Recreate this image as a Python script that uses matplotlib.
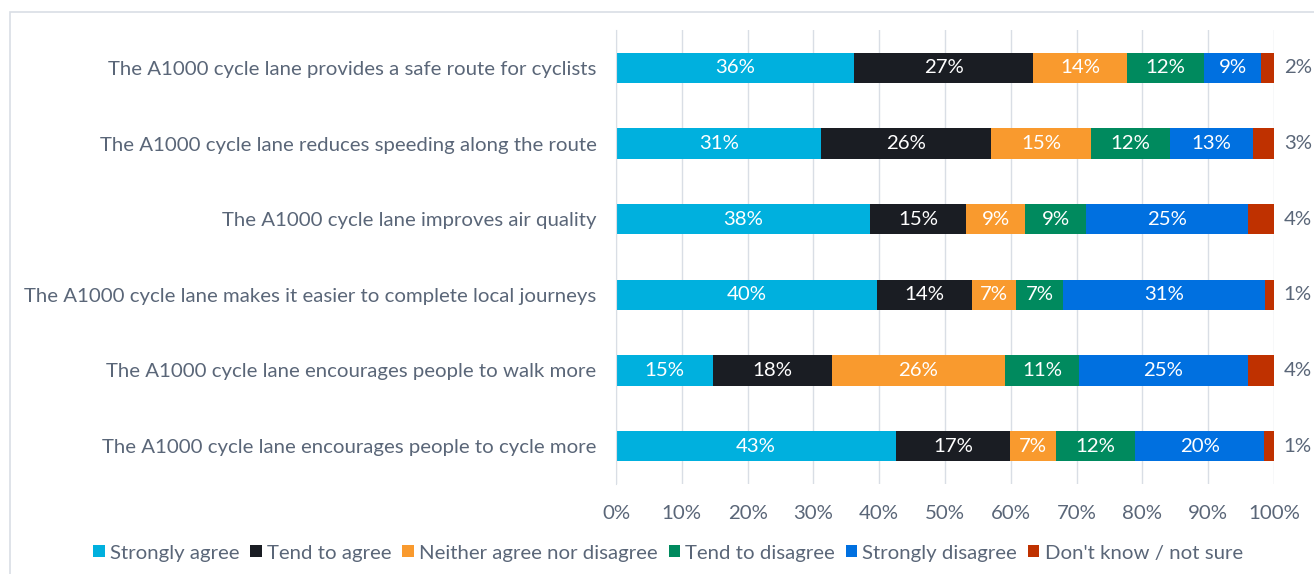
import matplotlib
matplotlib.use("Agg")
import matplotlib.pyplot as plt
from matplotlib.patches import Rectangle
from matplotlib.ticker import PercentFormatter

plt.rcParams['font.family'] = ['Lato', 'DejaVu Sans']

categories = [
    "The A1000 cycle lane provides a safe route for cyclists",
    "The A1000 cycle lane reduces speeding along the route",
    "The A1000 cycle lane improves air quality",
    "The A1000 cycle lane makes it easier to complete local journeys",
    "The A1000 cycle lane encourages people to walk more",
    "The A1000 cycle lane encourages people to cycle more",
]
series_names = ["Strongly agree", "Tend to agree", "Neither agree nor disagree",
                "Tend to disagree", "Strongly disagree", "Don't know / not sure"]
strongly_agree = [36.2, 31.2, 38.6, 39.7, 14.7, 42.6]
tend_agree = [27.2, 25.8, 14.6, 14.4, 18.1, 17.3]
neither = [14.3, 15.2, 9.0, 6.7, 26.3, 7.0]
tend_disagree = [11.7, 12.0, 9.2, 7.1, 11.3, 12.0]
strongly_disagree = [8.6, 12.6, 24.6, 30.7, 25.6, 19.6]
dont_know = [2.0, 3.2, 4.0, 1.4, 4.0, 1.5]
label_values = [
    [36, 31, 38, 40, 15, 43],
    [27, 26, 15, 14, 18, 17],
    [14, 15, 9, 7, 26, 7],
    [12, 12, 9, 7, 11, 12],
    [9, 13, 25, 31, 25, 20],
    [2, 3, 4, 1, 4, 1],
]
ticks = [0, 10, 20, 30, 40, 50, 60, 70, 80, 90, 100]

colors = ["#00B0DE", "#1A1D23", "#F99A2E", "#008A5E", "#0070E0", "#BF3100"]
text_color = "#5A6678"
FS = 14.7

series = [strongly_agree, tend_agree, neither, tend_disagree, strongly_disagree, dont_know]

fig = plt.figure(figsize=(13.14, 5.74), dpi=100)
# outer border
fig.patches.append(Rectangle((10 / 1314, -0.1), 1.2, 1 - 12 / 574 + 0.1,
                             transform=fig.transFigure, fill=False,
                             edgecolor="#D9DEE5", linewidth=1.2))
ax = fig.add_axes([616 / 1314, 1 - 484 / 574, 658 / 1314, 454 / 574])

y = list(range(len(categories)))
left = [0.0] * len(categories)
for i, (vals, name, col) in enumerate(zip(series, series_names, colors)):
    ax.barh(y, vals, left=left, height=0.4, color=col, label=name, zorder=3)
    for j, v in enumerate(vals):
        lbl = f"{label_values[i][j]}%"
        if i == len(series) - 1:
            ax.text(100 + 3.6, j, lbl, ha="center", va="center",
                    color=text_color, fontsize=FS)
        else:
            ax.text(left[j] + v / 2, j, lbl, ha="center", va="center",
                    color="white", fontsize=FS, zorder=4)
    left = [l + v for l, v in zip(left, vals)]

ax.set_xlim(0, 100)
ax.set_ylim(len(categories) - 0.5, -0.5)
ax.set_yticks(y)
ax.set_yticklabels(categories, fontsize=FS, color=text_color)
ax.set_xticks(ticks)
ax.xaxis.set_major_formatter(PercentFormatter(decimals=0))
ax.tick_params(axis="x", labelsize=FS, labelcolor=text_color, length=0, pad=15)
ax.tick_params(axis="y", length=0, pad=14)
ax.grid(axis="x", color="#D9DEE5", linewidth=1, zorder=0)
for s in ["top", "right", "bottom"]:
    ax.spines[s].set_visible(False)
ax.spines["left"].set_color("#D9DEE5")
ax.spines["left"].set_zorder(5)

handles, labels = ax.get_legend_handles_labels()
fig.legend(handles, labels, loc="center", bbox_to_anchor=(668 / 1314, 1 - 553 / 574),
           ncol=6, frameon=False, fontsize=FS, labelcolor=text_color,
           handlelength=0.55, handleheight=0.55, handletextpad=0.25, columnspacing=0.55)

fig.savefig("out.png", dpi=100)
